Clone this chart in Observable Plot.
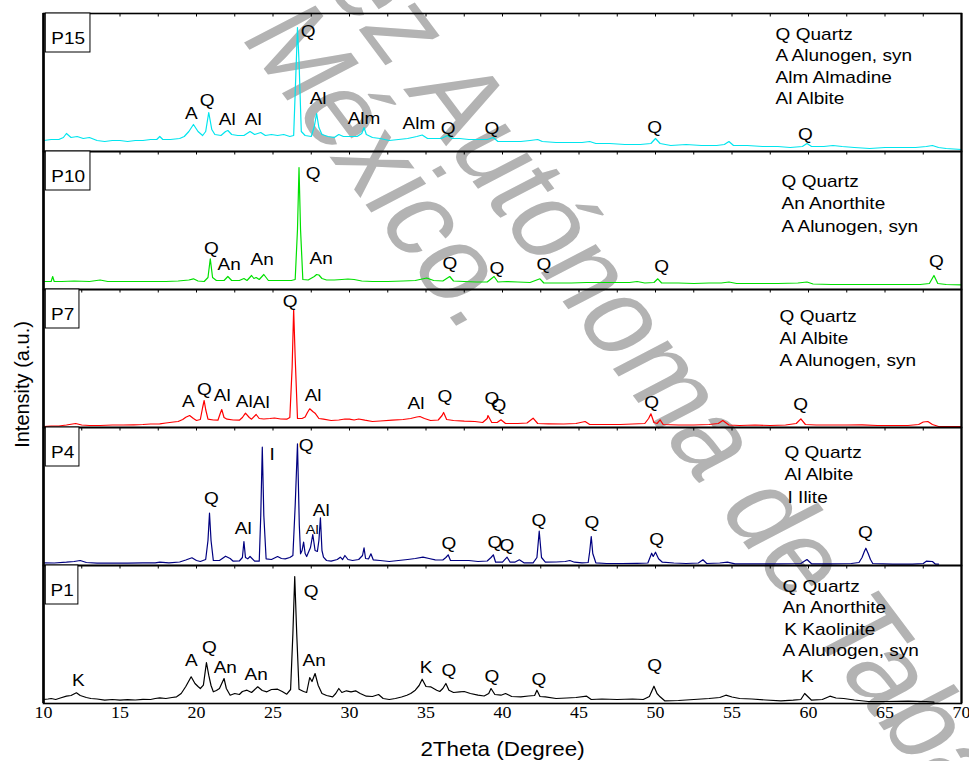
<!DOCTYPE html>
<html><head><meta charset="utf-8">
<script src="https://cdn.jsdelivr.net/npm/d3@7"></script>
<script src="https://cdn.jsdelivr.net/npm/@observablehq/plot@0.6"></script>
<style>
body{margin:0;background:#fff;}
#wrap{position:relative;width:969px;height:761px;overflow:hidden;}
#wm{position:absolute;left:0;top:0;width:969px;height:761px;z-index:0;pointer-events:none;}
.wmline{position:absolute;white-space:nowrap;font-family:"Liberation Sans",Arial,sans-serif;color:#b3b3b3;font-size:102px;line-height:1;transform-origin:center center;}
#chart{position:absolute;left:0;top:0;z-index:1;}
</style></head>
<body>
<div id="wrap">
  <div id="wm"><div class="wmline" id="wm1">Universidad Juárez Autónoma de Tabasco.</div><div class="wmline" id="wm2">México.</div></div>
  <div id="chart"></div>
</div>
<script>
// ---------- data (2Theta in degrees, intensity in a.u.) ----------
const samples = ["P15", "P10", "P7", "P4", "P1"];
const sampleColors = ["#00e5ee", "#00e000", "#ff0000", "#000080", "#000000"];
const xTickLabels = [10, 15, 20, 25, 30, 35, 40, 45, 50, 55, 60, 65, 70];

const p15 = [[10.0,11],[10.5,12],[11.0,12],[11.3,14],[11.5,18],[11.8,14],[12.2,15],[12.6,13],[13.0,14],[13.5,11],[14.0,10],[14.5,11],[15.0,11],[15.5,10],[16.0,11],[16.5,11],[17.0,12],[17.4,12],[17.6,15],[17.8,12],[18.3,12],[18.9,13],[19.2,15],[19.5,20],[19.8,27],[20.1,20],[20.4,16],[20.6,20],[20.8,39],[21.0,22],[21.2,17],[21.6,16],[21.9,20],[22.05,21],[22.3,17],[22.7,16],[23.1,16],[23.5,20],[23.8,17],[24.2,19],[24.5,16],[24.9,17],[25.3,16],[25.7,17],[26.1,15],[26.35,16],[26.5,80],[26.6,124],[26.7,90],[26.85,20],[27.1,16],[27.5,15],[27.7,25],[27.85,38],[28.0,24],[28.2,17],[28.6,15],[29.0,14],[29.3,17],[29.6,15],[30.0,15],[30.5,15],[30.8,18],[30.95,24],[31.1,17],[31.5,14],[32.0,13],[32.6,11],[33.2,12],[33.8,13],[34.4,15],[34.75,16.5],[35.1,13],[35.6,13],[36.0,13],[36.4,16],[36.7,13],[37.2,13],[37.8,12],[38.4,12],[39.0,12],[39.4,14],[39.7,10],[40.5,10],[41.2,10],[41.8,11],[42.3,12],[42.6,10],[43.5,9],[44.5,9],[45.2,9],[45.7,10],[46.1,8],[47.0,8],[48.0,7],[49.0,7],[49.7,8],[50.0,13],[50.3,8],[51.0,6],[52.0,7],[53.0,6],[54.0,6],[54.5,7],[54.8,10],[55.1,6],[56.0,6],[57.0,5],[58.0,5],[58.8,4],[59.6,5],[59.9,8],[60.2,5],[61.0,5],[61.6,6],[62.2,5],[63.0,4],[64.0,3],[65.0,4],[66.0,4],[67.0,4],[67.7,5],[68.1,6],[68.5,4],[69.0,3],[70.0,2]];

const p10 = [[10.0,8],[10.5,8],[10.6,13],[10.7,8],[11.2,8],[12.0,8.5],[13.0,8],[13.7,9.5],[14.2,8],[15.0,8],[16.0,8],[17.0,8],[18.0,8],[18.8,8.5],[19.5,9.5],[19.8,10.7],[20.1,8.5],[20.5,8],[20.75,12],[20.9,30.7],[21.05,12],[21.3,9],[21.8,9],[22.05,13],[22.3,9],[22.8,9],[23.1,11],[23.3,9],[23.6,14],[23.75,11],[23.9,12],[24.1,10],[24.4,15],[24.7,9],[25.2,9],[25.7,9],[26.2,9],[26.45,10],[26.6,60],[26.7,122],[26.8,60],[26.95,10],[27.3,9.5],[27.7,13],[27.85,15],[28.0,14.5],[28.2,11],[28.5,9.5],[29.0,9.5],[29.5,10],[29.9,10.5],[30.3,10],[30.8,8.5],[31.5,8],[32.5,8],[33.5,8.5],[34.3,9],[35.05,11.5],[35.5,9],[36.1,8.5],[36.55,13],[36.8,8.5],[37.5,8],[38.3,7.5],[39.0,7.5],[39.45,13],[39.7,7.5],[40.3,8],[41.0,7.5],[41.8,7],[42.45,10.7],[42.7,6.5],[43.5,6.5],[44.5,6.5],[45.5,7],[46.5,7],[47.5,7],[48.3,7],[48.8,8],[49.3,6.5],[49.9,7],[50.15,10.7],[50.4,6.5],[51.5,6.5],[52.5,6],[53.5,6.5],[54.3,6.5],[54.8,7.5],[55.3,6],[56.5,6],[58.0,6],[59.3,6.5],[59.9,7.5],[60.3,5.5],[61.5,5],[62.5,5],[63.5,5],[64.5,5],[65.5,5],[66.5,5],[67.3,5],[67.9,6],[68.2,14],[68.45,6],[69.0,5],[70.0,4.7]];

const p7 = [[10.0,1],[10.5,1.5],[11.0,1.5],[11.5,2.5],[12.1,4],[12.5,2.5],[13.0,2],[13.7,2],[14.5,2.5],[15.2,2.5],[15.9,2.7],[16.5,3],[17.0,3.5],[17.6,3.7],[18.0,4.5],[18.5,5.5],[18.8,6],[19.1,8],[19.3,10.3],[19.55,12],[19.8,9],[20.0,7],[20.25,8],[20.4,20],[20.5,27],[20.6,18],[20.75,8.3],[21.1,7.5],[21.4,7.3],[21.55,14],[21.65,18],[21.8,10],[22.0,8.3],[22.4,7.5],[22.8,7.3],[23.0,10],[23.2,14.3],[23.45,10],[23.6,8.3],[23.9,13],[24.1,9],[24.4,8.5],[24.8,9],[25.1,9.5],[25.5,8.5],[25.9,8.3],[26.1,10],[26.25,60],[26.35,118],[26.45,70],[26.6,9],[26.9,9],[27.1,10.5],[27.25,15],[27.4,18.7],[27.6,16],[27.75,14.3],[28.0,9],[28.3,8.3],[28.8,7],[29.3,7.5],[29.7,8.5],[30.0,8.3],[30.3,7.5],[30.6,8.5],[31.0,7.3],[31.5,6],[32.0,6.5],[32.8,7.3],[33.5,8],[34.0,9],[34.4,10.5],[34.6,11],[34.9,9],[35.3,7],[35.8,7.5],[36.05,12],[36.15,15],[36.35,8],[36.8,7],[37.5,6.3],[38.2,6],[38.7,5],[39.0,9],[39.05,12],[39.3,5],[39.65,5],[39.9,7.7],[40.2,4],[41.0,4],[41.6,4.5],[42.0,9.3],[42.3,4],[43.0,3.7],[44.0,3.5],[44.8,4],[45.4,6],[45.7,3],[46.5,3],[47.7,3],[48.5,3.5],[49.3,4],[49.55,9],[49.7,13.7],[49.9,5],[50.1,4],[50.3,7.7],[50.5,3],[51.5,2.5],[52.5,2.5],[53.5,3],[54.1,4],[54.4,7],[54.8,2.5],[55.5,2],[56.5,2.5],[57.5,2],[58.5,2.5],[59.2,4],[59.5,8.7],[59.8,3],[60.5,2.5],[61.5,2.5],[62.5,2.5],[63.5,2.7],[64.5,2],[65.5,2],[66.5,2],[67.2,3],[67.5,5.5],[67.8,6],[68.1,3],[68.5,1],[69.2,1],[70.0,1]];

const p4 = [[10.0,2.7],[10.7,2.5],[11.5,3.3],[12.0,4],[12.4,5],[12.8,3],[13.5,2.3],[14.5,2.5],[15.5,2.3],[16.5,2.7],[17.3,2.7],[17.6,3.3],[18.2,2.7],[18.9,3.5],[19.3,5.5],[19.7,7.7],[20.0,5],[20.25,4],[20.6,6],[20.75,25],[20.85,52.3],[20.95,25],[21.1,5],[21.5,5],[21.9,9.3],[22.2,7],[22.4,4.3],[22.8,4.5],[23.0,8],[23.1,24],[23.2,8],[23.35,6.7],[23.5,9],[23.8,4.3],[24.1,4.3],[24.2,50],[24.3,118.3],[24.4,50],[24.55,6.7],[24.9,6],[25.3,9],[25.55,7],[25.8,6.7],[26.1,8],[26.3,10],[26.45,60],[26.6,121.7],[26.72,40],[26.8,11.7],[26.9,15],[27.0,23.3],[27.1,12],[27.2,9],[27.45,18],[27.6,31],[27.75,15],[27.9,14],[28.0,25],[28.1,47.7],[28.2,15],[28.3,8.3],[28.5,5],[28.8,4.3],[29.2,6],[29.4,8.3],[29.55,6],[29.7,10],[29.9,6],[30.2,5],[30.6,6],[30.85,10],[30.95,17.7],[31.05,7],[31.25,6.7],[31.4,11.7],[31.55,5.7],[32.0,5],[32.6,4],[33.2,5],[33.8,6],[34.3,7],[34.8,8.3],[35.2,7],[35.6,5.7],[36.1,5.5],[36.3,8],[36.45,10.7],[36.6,5],[37.2,5],[37.8,5],[38.4,4],[39.0,4.5],[39.25,8],[39.4,10.7],[39.55,3.3],[40.0,3.3],[40.3,8.3],[40.5,3.3],[40.8,3.3],[41.1,5.7],[41.4,2.7],[42.0,2.7],[42.25,8],[42.4,34.3],[42.55,8],[42.8,3.3],[43.5,3.5],[44.1,4],[44.4,5],[44.7,3.3],[45.2,2.7],[45.6,3],[45.7,14],[45.8,29],[45.9,12],[46.1,2.7],[46.8,2],[47.8,2],[48.8,2.2],[49.5,2.5],[49.75,12.3],[49.85,9],[50.0,13.3],[50.2,6.7],[50.45,3.3],[51.2,2.5],[52.0,2],[52.8,2.5],[53.1,5.7],[53.35,2],[54.2,2.5],[54.7,3.3],[55.2,1.7],[56.5,1.7],[58.0,1.7],[59.5,2],[59.9,6],[60.2,1.7],[61.5,1.7],[62.8,2],[63.3,3],[63.5,8],[63.65,14],[63.75,17.3],[63.9,12],[64.05,6],[64.2,2],[65.5,1.3],[66.8,1.3],[67.5,2],[67.7,4.3],[68.1,4],[68.3,1.3],[68.5,1.3]];

const p1 = [[10.0,4],[10.3,4.5],[10.5,5],[10.8,4],[11.1,5.5],[11.5,7.3],[11.8,8],[12.15,10.7],[12.4,8],[12.55,7.3],[12.8,6],[13.1,5],[13.5,4.5],[14.0,3.3],[14.5,4],[15.0,3.3],[15.5,3.8],[16.0,3.5],[16.5,4.2],[17.0,4],[17.3,5],[17.6,5.7],[18.0,5],[18.4,6],[18.7,6.7],[19.0,10],[19.3,17],[19.65,26.7],[19.9,20],[20.1,17],[20.25,15],[20.45,18.3],[20.65,41],[20.8,28.3],[20.95,18],[21.1,11.7],[21.3,13],[21.5,15],[21.8,25],[21.95,15],[22.2,8.3],[22.5,10],[22.8,9],[23.0,12],[23.3,13.3],[23.6,11],[24.0,16.7],[24.3,13],[24.6,11.7],[24.9,14],[25.3,14.3],[25.6,12],[25.9,9.3],[26.15,14],[26.3,70],[26.42,127],[26.55,70],[26.7,14.3],[27.0,12],[27.2,11],[27.4,26],[27.55,22],[27.75,30],[27.95,18.3],[28.2,10],[28.5,8],[28.9,6.7],[29.1,10],[29.3,15],[29.5,11],[29.8,12.7],[30.1,11.7],[30.4,12.7],[30.7,10],[31.1,7.3],[31.5,7],[31.9,9],[32.2,5],[32.6,4],[33.0,5],[33.4,6.5],[33.75,8.3],[34.0,10],[34.3,13.3],[34.55,18],[34.75,24.3],[35.0,17],[35.3,16.7],[35.7,13.3],[35.9,12],[36.1,15],[36.3,20],[36.5,13.3],[36.8,11],[37.2,11.7],[37.5,12],[37.9,10],[38.4,8.3],[38.8,7.5],[39.1,10],[39.25,15],[39.5,9],[39.9,8.3],[40.2,10],[40.6,7],[41.2,6.7],[41.7,7.5],[42.1,8],[42.25,13.3],[42.45,7],[42.8,6.7],[43.5,5],[44.2,5.5],[44.8,6],[45.5,7.3],[45.8,4],[46.5,4.5],[47.5,4],[48.5,4.5],[49.2,4],[49.6,7],[49.9,17.3],[50.1,10],[50.3,6.7],[50.6,2.7],[51.5,3],[52.5,4],[53.5,5],[54.2,6],[54.6,8.3],[55.0,6.5],[55.5,5],[56.3,4.5],[57.2,3.5],[58.2,2.7],[59.0,3.3],[59.5,4],[59.75,10],[59.95,7],[60.2,3.3],[60.9,4],[61.4,7.3],[61.8,5.5],[62.3,5],[63.0,3.5],[63.9,2],[65.0,2],[66.5,2.3],[67.7,2],[68.2,1.3]];

// peak labels: [phase, 2Theta, intensity level]
const peaks15 = [["A",19.66,38],["Q",20.70,51],["Al",22.01,32],["Al",23.71,32],["Q",27.30,120],["Al",27.95,53],["Alm",30.95,33],["Alm",34.54,28],["Q",36.44,23],["Q",39.31,23],["Q",49.95,24],["Q",59.80,17]];
const peaks10 = [["Q",20.97,41],["An",22.14,25],["An",24.29,30],["Q",27.62,116],["An",28.15,31],["Q",36.57,26],["Q",39.63,21],["Q",42.70,25],["Q",50.40,23],["Q",68.36,28]];
const peaks7 = [["A",19.46,26],["Q",20.51,38],["Al",21.68,32],["Al",23.12,26],["Al",24.23,25],["Q",26.12,126],["Al",27.62,32],["Al",34.35,24],["Q",36.24,31],["Q",39.31,29],["Q",39.77,22],["Q",49.75,25],["Q",59.48,23]];
const peaks4 = [["Q",20.97,67],["Al",23.05,37],["I",24.95,111],["Q",27.17,120],["Al ",27.56,36],["Al",28.15,55],["Q",36.50,22],["Q",39.50,23],["Q",40.29,20],["Q",42.38,45],["Q",45.84,43],["Q",50.08,26],["Q",63.72,33]];
const peaks1 = [["K",12.28,23],["A",19.66,43],["Q",20.84,56],["An",21.88,36],["An",23.90,29],["Q",27.49,112],["An",27.69,43],["K",35.00,36],["Q",36.50,33],["Q",39.31,27],["Q",42.38,24],["Q",49.95,38],["K",59.93,27]];

// phase keys
const legend15 = ["Q Quartz", "A Alunogen, syn", "Alm Almadine", "Al Albite"];
const legend10 = ["Q Quartz", "An Anorthite", "A Alunogen, syn"];
const legend7 = ["Q Quartz", "Al Albite", "A Alunogen, syn"];
const legend4 = ["Q Quartz", "Al Albite", "I Ilite"];
const legend1 = ["Q Quartz", "An Anorthite", "K Kaolinite", "A Alunogen, syn"];

// ---------- build tables ----------
const seriesBySample = {P15: p15, P10: p10, P7: p7, P4: p4, P1: p1};
const peaksBySample = {P15: peaks15, P10: peaks10, P7: peaks7, P4: peaks4, P1: peaks1};
const legendBySample = {P15: legend15, P10: legend10, P7: legend7, P4: legend4, P1: legend1};

const rows = samples.flatMap(s => seriesBySample[s].map(([theta, intensity]) => ({sample: s, theta, intensity})));
const peakRows = samples.flatMap(s => peaksBySample[s].map(([label, theta, level]) => ({sample: s, label: label.trim(), theta, level, small: label !== label.trim()})));

// layout of annotation items (in data units)
const YMAX = 138;
const legendX = {P15: 57.85, P10: 58.24, P7: 58.11, P4: 58.43, P1: 58.3};
const legendTop = {P15: 117, P10: 108, P7: 111, P4: 113, P1: 117};
const legendStep = {P15: 21.3, P10: 22.5, P7: 22, P4: 22.5, P1: 21.3};
const legendRows = samples.flatMap(s => legendBySample[s].map((t, i) => ({sample: s, text: t, theta: legendX[s] + (t.startsWith("I ") ? 0.2 : 0) + (t.startsWith("K ") ? 0.12 : 0), level: legendTop[s] - i * legendStep[s]})));
const boxRight = {P15: 13.07, P10: 13.07, P7: 12.35, P4: 12.35, P1: 12.28};
const boxRows = samples.map(s => ({sample: s, x1: 10.15, x2: boxRight[s], y1: 99, y2: YMAX, tx: (10.15 + boxRight[s]) / 2}));

const minorTicks = d3.range(10, 70.001, 2.5);
const SANS = '"Liberation Sans", Arial, sans-serif';

const chart = Plot.plot({
  width: 969,
  height: 761,
  marginLeft: 43,
  marginRight: 8,
  marginTop: 13,
  marginBottom: 58,
  style: {fontFamily: SANS, fontSize: "17px", background: "transparent", color: "black", overflow: "visible"},
  x: {domain: [10, 70]},
  y: {domain: [0, YMAX], axis: null},
  fy: {domain: samples, paddingInner: 0, paddingOuter: 0, axis: null, label: null},
  color: {domain: samples, range: sampleColors},
  marks: [
    Plot.ruleX(minorTicks, {x: d => d, y1: YMAX, y2: YMAX - 3.5, stroke: "black", strokeWidth: 1}),
    Plot.line(rows, {x: "theta", y: "intensity", fy: "sample", stroke: "sample", strokeWidth: 1.2}),
    Plot.frame({stroke: "black", strokeWidth: 1.6}),
    Plot.ruleX([10], {stroke: "black", strokeWidth: 2.6}),
    Plot.ruleX([70], {stroke: "black", strokeWidth: 2}),
    Plot.rect(boxRows, {x1: "x1", x2: "x2", y1: "y1", y2: "y2", fy: "sample", fill: "white", stroke: "black", strokeWidth: 1}),
    Plot.text(boxRows, {x: "tx", y: 112.5, fy: "sample", text: "sample", fontSize: 17, lineAnchor: "middle"}),
    Plot.text(peakRows, {x: "theta", y: "level", fy: "sample", text: "label", fontSize: d => d.small ? 13 : 17, lineAnchor: "middle"}),
    Plot.text(legendRows, {x: "theta", y: "level", fy: "sample", text: "text", textAnchor: "start", fontSize: 17, lineAnchor: "middle"}),
    Plot.axisX(xTickLabels, {tickSize: 0, tickPadding: 3, fontFamily: '"Liberation Serif", "Times New Roman", serif', fontSize: 16, label: null}),
    Plot.text([{sample: "P1", t: "2Theta (Degree)"}], {fy: "sample", text: "t", frameAnchor: "bottom", dy: 46, fontSize: 20, lineAnchor: "middle"}),
    Plot.text([{sample: "P7", t: "Intensity (a.u.)"}], {fy: "sample", text: "t", frameAnchor: "left", textAnchor: "middle", dx: -21, dy: 26, rotate: -90, fontSize: 20, lineAnchor: "middle"})
  ]
});
document.getElementById("chart").appendChild(chart);

// the source figure's lettering is slightly wide: stretch horizontal text around its anchor
d3.select(chart).selectAll("text").each(function() {
  const t = this.getAttribute("transform");
  if (t && !/rotate/.test(t)) this.setAttribute("transform", t + " scale(1.12,1)");
});

// watermark placement
const place = (id, cx, cy) => {
  const el = document.getElementById(id);
  el.style.left = cx + "px";
  el.style.top = cy + "px";
  el.style.transform = "translate(-50%,-50%) scaleX(1.2) rotate(58deg)";
};
place("wm1", 485, 132);
place("wm2", 386, 166);
</script>
</body></html>
